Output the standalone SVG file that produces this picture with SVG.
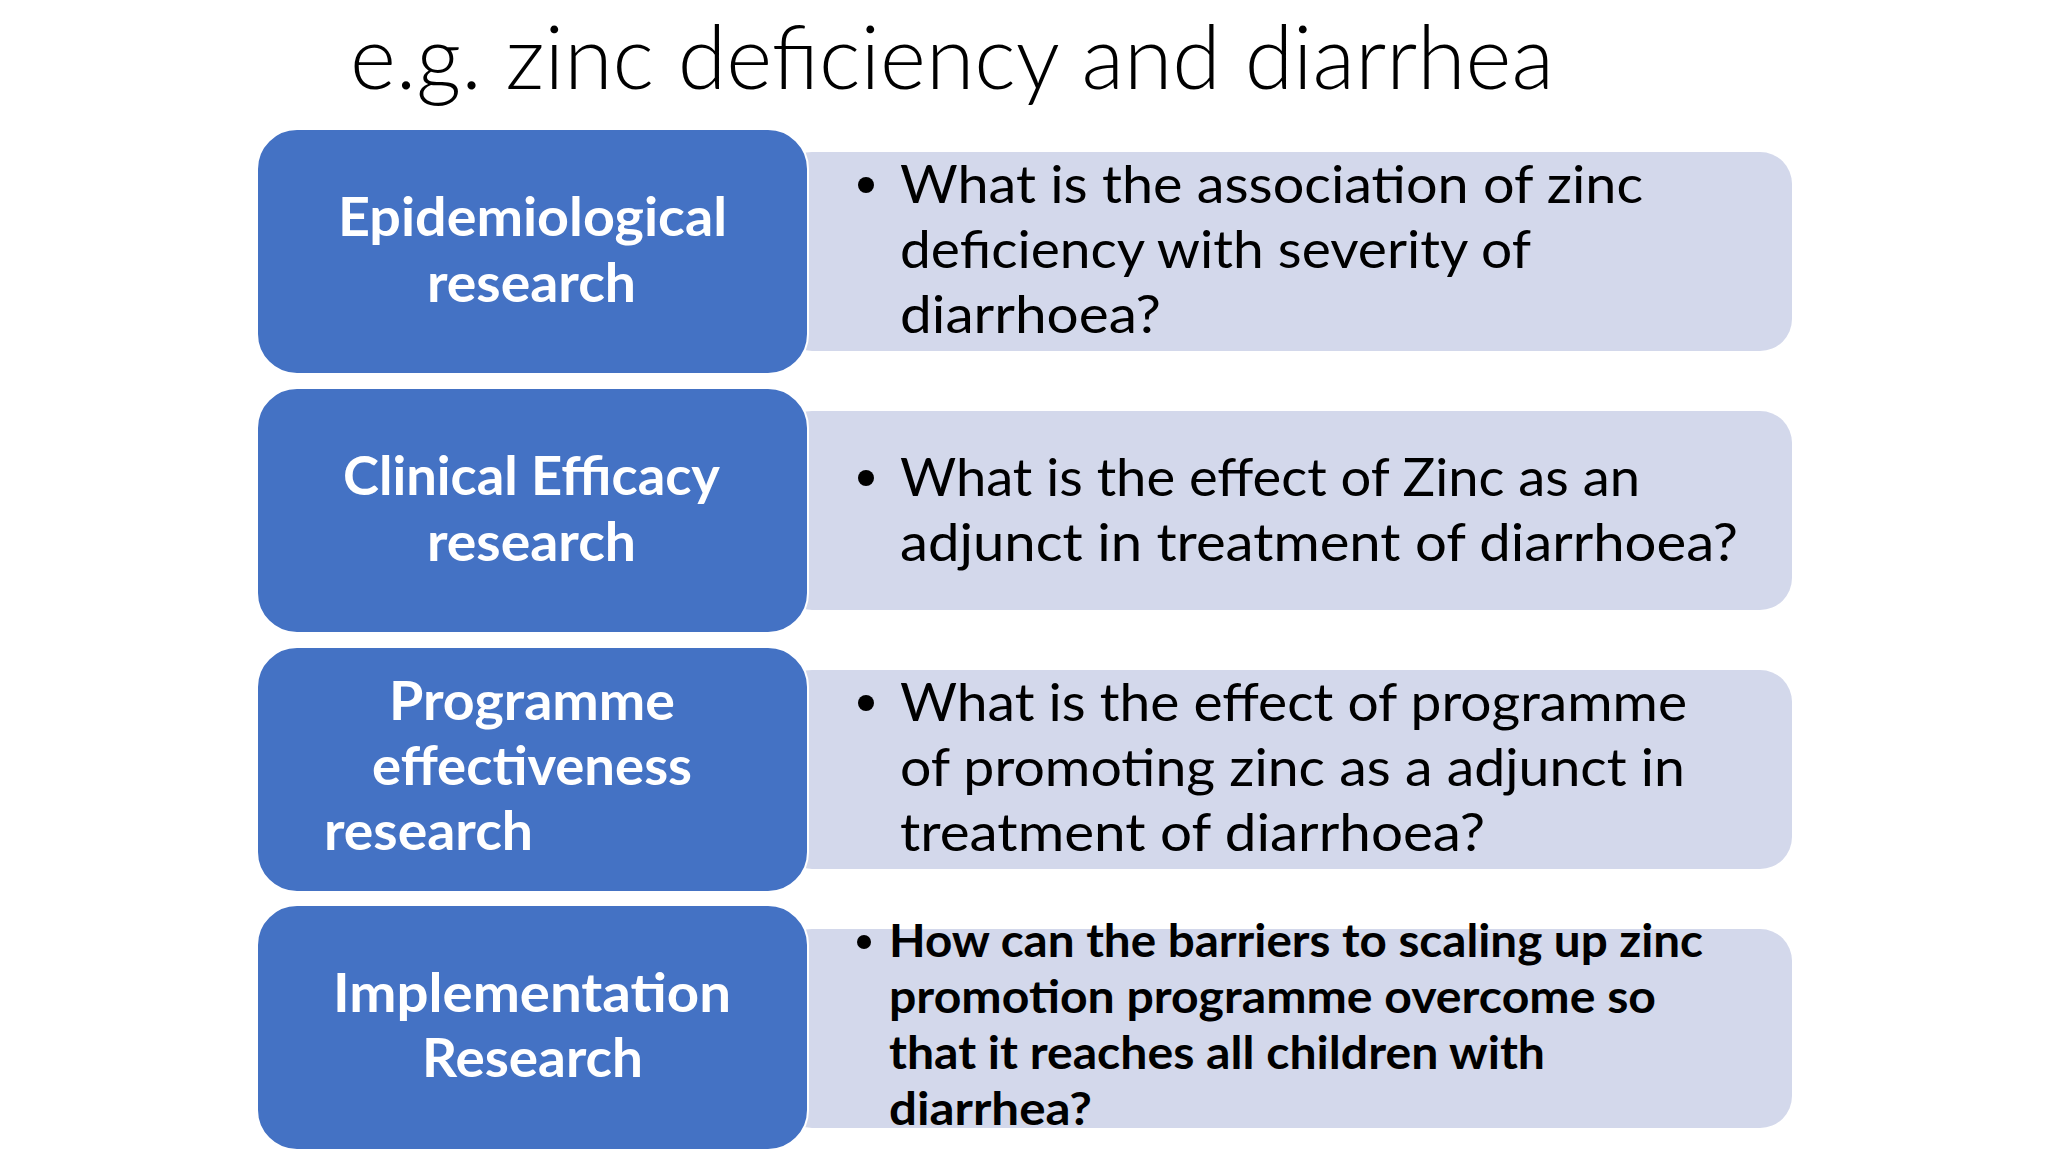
<svg xmlns="http://www.w3.org/2000/svg" width="2048" height="1152" viewBox="0 0 2048 1152">
<style>
.bg{fill:#ffffff}
.lbox{fill:#D3D8EB}
.bbox{fill:#4472C4;stroke:#ffffff;stroke-width:2}
.lt{font-family:Lato,"Open Sans","Liberation Sans",sans-serif;font-weight:bold;font-size:54px;fill:#ffffff}
.rt{font-family:Lato,"Open Sans","Liberation Sans",sans-serif;font-size:53px;fill:#000000}
.rtb{font-family:Lato,"Open Sans","Liberation Sans",sans-serif;font-weight:bold;font-size:45px;fill:#000000}
.title{font-family:Lato,"Open Sans","Liberation Sans",sans-serif;font-weight:300;font-size:88px;fill:#000000}
.dot{fill:#000000}
</style>
<rect class="bg" x="0" y="0" width="2048" height="1152"/>
<text class="title" x="350" y="89" textLength="1204" lengthAdjust="spacingAndGlyphs">e.g. zinc deficiency and diarrhea</text>
<g id="connectors"></g>
<g id="row1">
<rect class="lbox" x="780" y="152" width="1012" height="199" rx="32"/>
<rect class="bbox" x="257" y="129" width="551" height="245" rx="40"/>
<text class="lt" x="338" y="236" textLength="389" lengthAdjust="spacingAndGlyphs">Epidemiological</text>
<text class="lt" x="427" y="302" textLength="209" lengthAdjust="spacingAndGlyphs">research</text>
<circle class="dot" cx="866" cy="185" r="8"/>
<text class="rt" x="900" y="203" textLength="743" lengthAdjust="spacingAndGlyphs">What  is the association of zinc</text>
<text class="rt" x="900" y="268" textLength="631" lengthAdjust="spacingAndGlyphs">deficiency with severity of</text>
<text class="rt" x="900" y="333" textLength="261" lengthAdjust="spacingAndGlyphs">diarrhoea?</text>
</g>
<g id="row2">
<rect class="lbox" x="780" y="411" width="1012" height="199" rx="32"/>
<rect class="bbox" x="257" y="388" width="551" height="245" rx="40"/>
<text class="lt" x="343" y="495" textLength="377" lengthAdjust="spacingAndGlyphs">Clinical Efficacy</text>
<text class="lt" x="427" y="561" textLength="209" lengthAdjust="spacingAndGlyphs">research</text>
<circle class="dot" cx="866" cy="478" r="8"/>
<text class="rt" x="900" y="496" textLength="740" lengthAdjust="spacingAndGlyphs">What is the effect of Zinc as an</text>
<text class="rt" x="900" y="561" textLength="838" lengthAdjust="spacingAndGlyphs">adjunct in treatment of diarrhoea?</text>
</g>
<g id="row3">
<rect class="lbox" x="780" y="670" width="1012" height="199" rx="32"/>
<rect class="bbox" x="257" y="647" width="551" height="245" rx="40"/>
<text class="lt" x="389" y="720" textLength="286" lengthAdjust="spacingAndGlyphs">Programme</text>
<text class="lt" x="372" y="785" textLength="320" lengthAdjust="spacingAndGlyphs">effectiveness</text>
<text class="lt" x="324" y="850" textLength="209" lengthAdjust="spacingAndGlyphs">research</text>
<circle class="dot" cx="866" cy="703" r="8"/>
<text class="rt" x="900" y="721" textLength="787" lengthAdjust="spacingAndGlyphs">What is the effect of programme</text>
<text class="rt" x="900" y="786" textLength="785" lengthAdjust="spacingAndGlyphs">of promoting zinc as a adjunct in</text>
<text class="rt" x="900" y="851" textLength="585" lengthAdjust="spacingAndGlyphs">treatment of diarrhoea?</text>
</g>
<g id="row4">
<rect class="lbox" x="780" y="929" width="1012" height="199" rx="32"/>
<rect class="bbox" x="257" y="905" width="551" height="245" rx="40"/>
<text class="lt" x="333" y="1012" textLength="398" lengthAdjust="spacingAndGlyphs">Implementation</text>
<text class="lt" x="422" y="1077" textLength="221" lengthAdjust="spacingAndGlyphs">Research</text>
<circle class="dot" cx="864" cy="942" r="7"/>
<text class="rtb" x="889" y="957" textLength="814" lengthAdjust="spacingAndGlyphs">How can the barriers to scaling up zinc</text>
<text class="rtb" x="889" y="1013" textLength="767" lengthAdjust="spacingAndGlyphs">promotion programme overcome so</text>
<text class="rtb" x="889" y="1069" textLength="656" lengthAdjust="spacingAndGlyphs">that it reaches all children with</text>
<text class="rtb" x="889" y="1125" textLength="203" lengthAdjust="spacingAndGlyphs">diarrhea?</text>
</g>
</svg>
